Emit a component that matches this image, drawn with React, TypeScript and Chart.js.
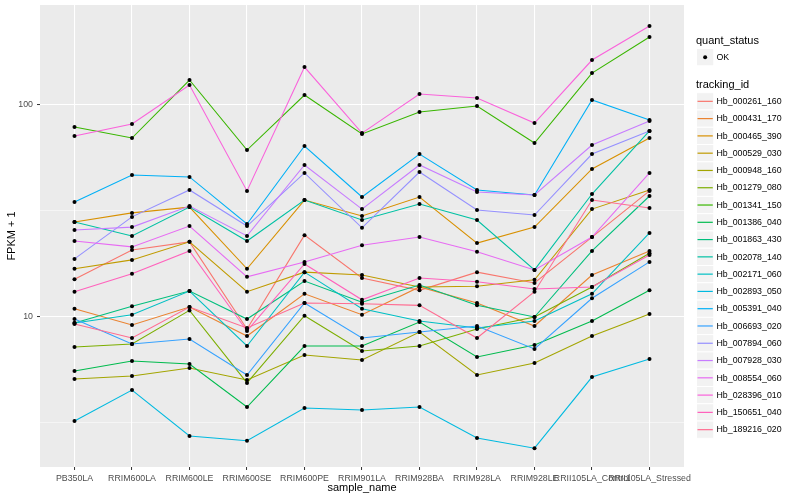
import { useEffect, useRef } from "react";
import { Chart, registerables } from "chart.js";

Chart.register(...registerables);

const sampleNames = [
  "PB350LA", "RRIM600LA", "RRIM600LE", "RRIM600SE", "RRIM600PE", "RRIM901LA",
  "RRIM928BA", "RRIM928LA", "RRIM928LE", "RRII105LA_Control", "RRII105LA_Stressed",
];

const trackingIds = [
  "Hb_000261_160", "Hb_000431_170", "Hb_000465_390", "Hb_000529_030", "Hb_000948_160",
  "Hb_001279_080", "Hb_001341_150", "Hb_001386_040", "Hb_001863_430", "Hb_002078_140",
  "Hb_002171_060", "Hb_002893_050", "Hb_005391_040", "Hb_006693_020", "Hb_007894_060",
  "Hb_007928_030", "Hb_008554_060", "Hb_028396_010", "Hb_150651_040", "Hb_189216_020",
];

const seriesColors = [
  "#F8766D", "#EA8331", "#D89000", "#C09B00", "#A3A500", "#7CAE00", "#39B600", "#00BB4E",
  "#00BF7D", "#00C1A3", "#00BFC4", "#00BAE0", "#00B0F6", "#35A2FF", "#9590FF", "#C77CFF",
  "#E76BF3", "#FA62DB", "#FF62BC", "#FF6C91",
];

// FPKM + 1 per sample (same order as sampleNames)
const fpkm_000261_160 = [15.0, 20.6, 22.5, 8.74, 24.2, 15.2, 13.3, 16.2, 14.4, 23.7, 39.1];
const fpkm_000431_170 = [10.9, 9.13, 11.1, 8.1, 12.8, 10.2, 13.8, 11.6, 9.03, 15.7, 20.4];
const fpkm_000465_390 = [27.9, 30.8, 32.8, 16.8, 35.4, 29.8, 36.6, 22.2, 26.4, 49.6, 69.4];
const fpkm_000529_030 = [16.8, 18.5, 22.5, 13.1, 16.2, 15.7, 13.8, 13.9, 14.9, 32.1, 39.5];
const fpkm_000948_160 = [5.08, 5.25, 5.73, 5.03, 6.6, 6.25, 8.46, 5.31, 6.05, 8.1, 10.3];
const fpkm_001279_080 = [7.19, 7.43, 10.7, 4.87, 10.1, 6.89, 7.27, 8.74, 9.96, 13.8, 19.9];
const fpkm_001341_150 = [78.2, 69.4, 130.2, 60.9, 110.6, 72.5, 92.0, 98.2, 65.7, 140.4, 207.5];
const fpkm_001386_040 = [5.54, 6.18, 5.98, 3.75, 7.27, 7.27, 9.43, 6.45, 7.35, 9.54, 13.3];
const fpkm_001863_430 = [9.33, 11.2, 13.2, 9.74, 14.7, 11.7, 14.1, 11.3, 9.96, 20.4, 37.0];
const fpkm_002078_140 = [27.9, 24.0, 32.8, 22.7, 35.4, 28.5, 33.9, 28.5, 16.6, 37.8, 74.9];
const fpkm_002171_060 = [9.33, 10.2, 13.2, 7.27, 16.2, 10.9, 9.54, 8.84, 9.54, 12.8, 24.8];
const fpkm_002893_050 = [3.22, 4.51, 2.74, 2.6, 3.71, 3.63, 3.75, 2.68, 2.4, 5.19, 6.32];
const fpkm_005391_040 = [34.7, 46.5, 45.5, 27.3, 63.6, 36.6, 58.3, 39.5, 37.4, 104.8, 84.4];
const fpkm_006693_020 = [9.74, 7.43, 7.84, 5.31, 11.6, 7.93, 8.46, 9.03, 7.04, 12.2, 18.1];
const fpkm_007894_060 = [18.7, 29.5, 39.5, 26.7, 47.5, 26.2, 48.0, 31.8, 30.1, 58.3, 74.9];
const fpkm_007928_030 = [25.6, 26.4, 33.2, 24.0, 51.8, 32.1, 51.8, 38.6, 37.4, 64.3, 83.4];
const fpkm_008554_060 = [22.7, 21.3, 26.7, 15.4, 18.1, 21.7, 23.7, 20.2, 16.6, 23.7, 47.5];
const fpkm_028396_010 = [70.9, 80.8, 123.3, 39.1, 149.8, 73.2, 111.8, 107.1, 81.6, 161.7, 233.8];
const fpkm_150651_040 = [13.1, 15.9, 20.4, 8.56, 17.7, 12.0, 15.2, 14.6, 13.5, 13.8, 19.5];
const fpkm_189216_020 = [9.23, 7.93, 11.1, 8.84, 11.6, 11.5, 11.3, 7.93, 13.1, 35.4, 32.5];

const seriesValues = [
  fpkm_000261_160, fpkm_000431_170, fpkm_000465_390, fpkm_000529_030, fpkm_000948_160,
  fpkm_001279_080, fpkm_001341_150, fpkm_001386_040, fpkm_001863_430, fpkm_002078_140,
  fpkm_002171_060, fpkm_002893_050, fpkm_005391_040, fpkm_006693_020, fpkm_007894_060,
  fpkm_007928_030, fpkm_008554_060, fpkm_028396_010, fpkm_150651_040, fpkm_189216_020,
];

const yMajorTicks = [10, 100];
const yMinorTicks = [3.1623, 31.623];
const yRange = [1.957, 293.7];
const quantStatus = ["OK"];

const FONT = '"Liberation Sans", Arial, Helvetica, sans-serif';

const ggPlugin = {
  id: "ggDecor",
  beforeDraw(chart: any) {
    const { ctx, chartArea: a } = chart;
    ctx.save();
    ctx.fillStyle = "#EBEBEB";
    ctx.fillRect(a.left, a.top, a.right - a.left, a.bottom - a.top);
    ctx.restore();
  },
  afterDraw(chart: any) {
    const { ctx, chartArea: a } = chart;
    ctx.save();
    // axis titles
    ctx.fillStyle = "#000000";
    ctx.font = `11px ${FONT}`;
    ctx.textAlign = "center";
    ctx.textBaseline = "middle";
    ctx.fillText("sample_name", (a.left + a.right) / 2, 487.5);
    ctx.save();
    ctx.translate(11.5, (a.top + a.bottom) / 2);
    ctx.rotate(-Math.PI / 2);
    ctx.fillText("FPKM + 1", 0, 0);
    ctx.restore();

    // legend
    const lx = 696;
    const keyW = 17.28;
    ctx.textAlign = "left";
    ctx.font = `11px ${FONT}`;
    ctx.fillText("quant_status", lx, 40.5);
    const drawKey = (top: number) => {
      ctx.fillStyle = "#F2F2F2";
      ctx.fillRect(lx + 0.5, top, keyW, keyW);
      ctx.strokeStyle = "#FFFFFF";
      ctx.lineWidth = 1;
      ctx.strokeRect(lx + 0.5, top, keyW, keyW);
    };
    drawKey(48.5);
    ctx.fillStyle = "#000000";
    ctx.beginPath();
    ctx.arc(lx + 0.5 + keyW / 2, 48.5 + keyW / 2, 2, 0, Math.PI * 2);
    ctx.fill();
    ctx.font = `8.8px ${FONT}`;
    ctx.fillText(quantStatus[0], 716.5, 57.3);

    ctx.font = `11px ${FONT}`;
    ctx.fillText("tracking_id", lx, 84.5);
    trackingIds.forEach((id, i) => {
      const top = 92.7 + i * keyW;
      drawKey(top);
      ctx.strokeStyle = seriesColors[i];
      ctx.lineWidth = 1.2;
      ctx.beginPath();
      ctx.moveTo(lx + 1.5, top + keyW / 2);
      ctx.lineTo(lx + keyW - 0.5, top + keyW / 2);
      ctx.stroke();
      ctx.fillStyle = "#000000";
      ctx.font = `8.8px ${FONT}`;
      ctx.fillText(id, 716.5, top + keyW / 2 + 0.3);
    });
    ctx.restore();
  },
};

export default function App() {
  const canvasRef = useRef<HTMLCanvasElement | null>(null);

  useEffect(() => {
    if (!canvasRef.current) return;
    const lineSets = seriesValues.map((vals, i) => ({
      label: trackingIds[i],
      data: vals.map((v, j) => ({ x: j, y: v })),
      borderColor: seriesColors[i],
      backgroundColor: seriesColors[i],
      borderWidth: 1.07,
      pointRadius: 0,
      tension: 0,
      order: 100 - i,
    }));
    const pointSets = seriesValues.map((vals, i) => ({
      label: trackingIds[i] + " points",
      data: vals.map((v, j) => ({ x: j, y: v })),
      showLine: false,
      pointRadius: 2,
      pointBorderWidth: 0,
      pointBackgroundColor: "#000000",
      pointBorderColor: "#000000",
      order: 0,
    }));

    const chart = new Chart(canvasRef.current, {
      type: "line",
      data: { datasets: [...pointSets, ...lineSets] as any },
      plugins: [ggPlugin],
      options: {
        animation: false,
        responsive: false,
        events: [],
        layout: { padding: { left: 0, top: 5, right: 116, bottom: 0 } },
        plugins: { legend: { display: false }, tooltip: { enabled: false } },
        scales: {
          x: {
            type: "linear",
            min: -0.6,
            max: sampleNames.length - 1 + 0.6,
            afterBuildTicks: (scale: any) => {
              scale.ticks = sampleNames.map((_, i) => ({ value: i }));
            },
            afterFit: (scale: any) => {
              scale.height = 33;
              scale.paddingLeft = 0;
              scale.paddingRight = 0;
              scale.paddingTop = 0;
              scale.paddingBottom = 0;
            },
            border: { display: false },
            grid: {
              color: "#FFFFFF",
              lineWidth: 1.07,
              tickLength: 3,
              tickColor: "#333333",
              tickWidth: 1,
            },
            ticks: {
              autoSkip: false,
              maxRotation: 0,
              minRotation: 0,
              padding: 3,
              color: "#4D4D4D",
              font: { family: FONT, size: 8.8 },
              callback: (v: any) => sampleNames[Math.round(Number(v))] ?? "",
            },
          },
          y: {
            type: "logarithmic",
            min: yRange[0],
            max: yRange[1],
            afterBuildTicks: (scale: any) => {
              scale.ticks = [...yMinorTicks, ...yMajorTicks]
                .sort((p, q) => p - q)
                .map((v) => ({ value: v }));
            },
            afterFit: (scale: any) => {
              scale.width = 40;
              scale.paddingLeft = 0;
              scale.paddingRight = 0;
              scale.paddingTop = 0;
              scale.paddingBottom = 0;
            },
            border: { display: false },
            grid: {
              color: "#FFFFFF",
              lineWidth: (c: any) => (yMajorTicks.includes(c.tick?.value) ? 1.07 : 0.53),
              tickLength: 3,
              tickColor: (c: any) =>
                yMajorTicks.includes(c.tick?.value) ? "#333333" : "rgba(0,0,0,0)",
              tickWidth: 1,
            },
            ticks: {
              autoSkip: false,
              padding: 4,
              color: "#4D4D4D",
              font: { family: FONT, size: 8.8 },
              callback: (v: any) => (yMajorTicks.includes(Number(v)) ? String(v) : ""),
            },
          },
        },
      },
    });
    return () => chart.destroy();
  }, []);

  return (
    <div style={{ position: "absolute", left: 0, top: 0, width: 800, height: 500, background: "#FFFFFF" }}>
      <canvas ref={canvasRef} width={800} height={500} style={{ display: "block", width: 800, height: 500 }} />
    </div>
  );
}
